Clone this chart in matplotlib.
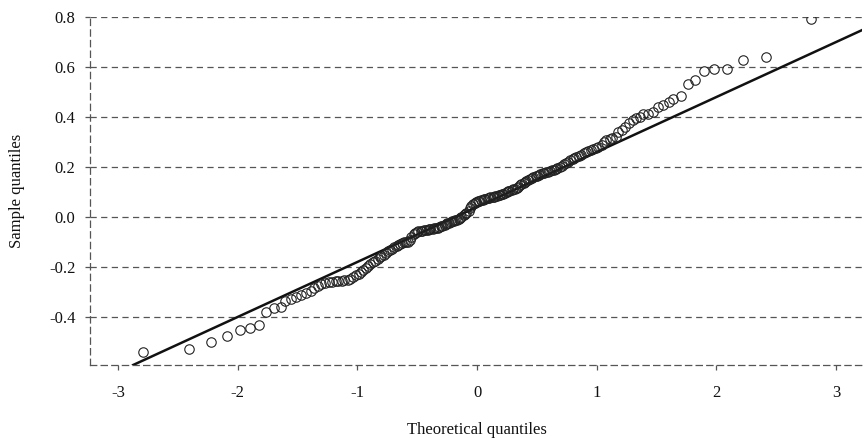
import matplotlib
matplotlib.use("Agg")
import matplotlib.pyplot as plt

plt.rcParams["font.family"] = ["Liberation Serif", "DejaVu Serif"]
plt.rcParams["axes.unicode_minus"] = False

# Theoretical quantiles (lower half; upper half is the mirror image)
theo_lower = [-2.79, -2.41, -2.22, -2.09, -1.98, -1.90, -1.82, -1.76, -1.70, -1.64,
              -1.60, -1.55, -1.51, -1.47, -1.43, -1.39, -1.36, -1.33, -1.30, -1.27,
              -1.24, -1.21, -1.18, -1.16, -1.13, -1.11, -1.08, -1.06, -1.04, -1.01,
              -0.99, -0.97, -0.95, -0.93, -0.91, -0.89, -0.87, -0.85, -0.83, -0.81,
              -0.80, -0.78, -0.76, -0.74, -0.73, -0.71, -0.69, -0.67, -0.66, -0.64,
              -0.63, -0.61, -0.59, -0.58, -0.56, -0.55, -0.53, -0.52, -0.50, -0.49,
              -0.47, -0.46, -0.44, -0.43, -0.41, -0.40, -0.39, -0.37, -0.36, -0.34,
              -0.33, -0.32, -0.30, -0.29, -0.27, -0.26, -0.25, -0.23, -0.22, -0.21,
              -0.19, -0.18, -0.17, -0.15, -0.14, -0.13, -0.11, -0.10, -0.09, -0.07,
              -0.06, -0.05, -0.03, -0.02, -0.01]
theo_upper = [0.01, 0.02, 0.03, 0.05, 0.06, 0.07, 0.09, 0.10, 0.11, 0.13,
              0.14, 0.15, 0.17, 0.18, 0.19, 0.21, 0.22, 0.23, 0.25, 0.26,
              0.27, 0.29, 0.30, 0.32, 0.33, 0.34, 0.36, 0.37, 0.39, 0.40,
              0.41, 0.43, 0.44, 0.46, 0.47, 0.49, 0.50, 0.52, 0.53, 0.55,
              0.56, 0.58, 0.59, 0.61, 0.63, 0.64, 0.66, 0.67, 0.69, 0.71,
              0.73, 0.74, 0.76, 0.78, 0.80, 0.81, 0.83, 0.85, 0.87, 0.89,
              0.91, 0.93, 0.95, 0.97, 0.99, 1.01, 1.04, 1.06, 1.08, 1.11,
              1.13, 1.16, 1.18, 1.21, 1.24, 1.27, 1.30, 1.33, 1.36, 1.39,
              1.43, 1.47, 1.51, 1.55, 1.60, 1.64, 1.70, 1.76, 1.82, 1.90,
              1.98, 2.09, 2.22, 2.41, 2.79]

# Sample quantiles (sorted)
sample_lower = [-0.539, -0.527, -0.501, -0.475, -0.452, -0.445, -0.433, -0.380, -0.363, -0.359,
                -0.336, -0.328, -0.318, -0.310, -0.303, -0.294, -0.285, -0.276, -0.268, -0.263,
                -0.260, -0.258, -0.257, -0.256, -0.255, -0.253, -0.250, -0.246, -0.240, -0.233,
                -0.226, -0.218, -0.210, -0.203, -0.196, -0.188, -0.180, -0.174, -0.168, -0.161,
                -0.155, -0.150, -0.143, -0.137, -0.132, -0.127, -0.120, -0.115, -0.110, -0.106,
                -0.103, -0.101, -0.100, -0.098, -0.092, -0.080, -0.068, -0.062, -0.058, -0.056,
                -0.055, -0.054, -0.053, -0.051, -0.050, -0.049, -0.048, -0.046, -0.045, -0.044,
                -0.042, -0.040, -0.037, -0.034, -0.030, -0.027, -0.025, -0.022, -0.019, -0.017,
                -0.014, -0.012, -0.010, -0.006, -0.002, 0.002, 0.008, 0.012, 0.016, 0.026,
                0.036, 0.044, 0.052, 0.057, 0.060]
sample_upper = [0.063, 0.066, 0.068, 0.070, 0.072, 0.073, 0.075, 0.077, 0.079, 0.080,
                0.082, 0.083, 0.085, 0.087, 0.088, 0.091, 0.094, 0.097, 0.101, 0.104,
                0.106, 0.109, 0.111, 0.114, 0.117, 0.121, 0.127, 0.132, 0.138, 0.142,
                0.145, 0.148, 0.151, 0.155, 0.159, 0.163, 0.166, 0.170, 0.172, 0.175,
                0.177, 0.180, 0.182, 0.185, 0.188, 0.190, 0.193, 0.196, 0.200, 0.205,
                0.211, 0.216, 0.222, 0.228, 0.233, 0.237, 0.241, 0.245, 0.250, 0.255,
                0.259, 0.263, 0.267, 0.271, 0.275, 0.280, 0.290, 0.302, 0.310, 0.314,
                0.318, 0.322, 0.340, 0.350, 0.362, 0.375, 0.390, 0.395, 0.399, 0.411,
                0.412, 0.419, 0.441, 0.447, 0.461, 0.473, 0.483, 0.532, 0.548, 0.585,
                0.592, 0.593, 0.628, 0.640, 0.791]

# Reference line
line_intercept = 0.04
line_slope = 0.22

x_ticks = [-3, -2, -1, 0, 1, 2, 3]
x_ticklabels = ["-3", "-2", "-1", "0", "1", "2", "3"]
y_ticks = [-0.4, -0.2, 0.0, 0.2, 0.4, 0.6, 0.8]
y_ticklabels = ["-0.4", "-0.2", "0.0", "0.2", "0.4", "0.6", "0.8"]

theo = theo_lower + theo_upper
sample = sample_lower + sample_upper

fig = plt.figure(figsize=(8.64, 4.38), dpi=100)
ax = fig.add_axes([90 / 864, 73 / 438, 772 / 864, 348 / 438])

grid_color = "#555555"
ax.set_xlim(-3.233, 3.216)
ax.set_ylim(-0.592, 0.8)

for yv in y_ticks:
    ax.axhline(yv, color=grid_color, lw=0.9, ls=(0, (5, 3.5)), zorder=1)

ax.axline((0, line_intercept), slope=line_slope, color="#111111", lw=1.8, zorder=3)
ax.plot(theo, sample, ls="none", marker="o", ms=6.8, mfc="none", mec="#222222",
        mew=0.8, zorder=4)

for s in ["top", "right"]:
    ax.spines[s].set_visible(False)
for s in ["left", "bottom"]:
    ax.spines[s].set_linestyle((0, (5, 3.5)))
    ax.spines[s].set_color(grid_color)
    ax.spines[s].set_linewidth(0.9)

ax.set_xticks(x_ticks)
ax.set_xticklabels(x_ticklabels)
ax.set_yticks(y_ticks)
ax.set_yticklabels(y_ticklabels)
ax.tick_params(axis="both", colors=grid_color, labelcolor="#111111",
               labelsize=12, length=3.5, width=0.9)
ax.tick_params(axis="x", pad=11)
ax.tick_params(axis="y", pad=7)

fig.text(477 / 864, 1 - 430 / 438, "Theoretical quantiles", ha="center", va="center",
         fontsize=12, color="#111111")
fig.text(17 / 864, 1 - 191 / 438, "Sample quantiles", ha="center", va="center",
         rotation=90, fontsize=12, color="#111111")

fig.savefig("out.png", dpi=100)
